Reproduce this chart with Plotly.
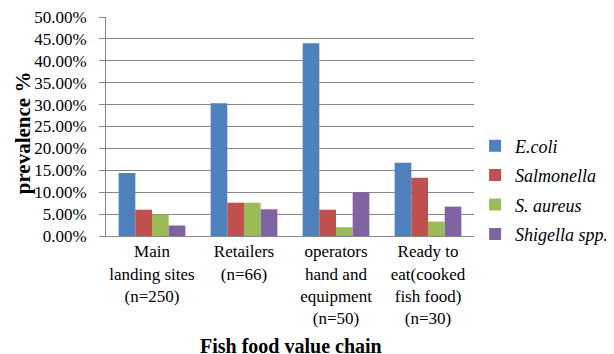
import plotly.graph_objects as go

categories = ["Main<br>landing sites<br>(n=250)", "Retailers<br>(n=66)",
              "operators<br>hand and<br>equipment<br>(n=50)",
              "Ready to<br>eat(cooked<br>fish food)<br>(n=30)"]
series_names = ["E.coli", "Salmonella", "S. aureus", "Shigella spp."]
ecoli = [14.4, 30.3, 44.0, 16.7]
salmonella = [6.0, 7.6, 6.0, 13.3]
saureus = [4.9, 7.6, 2.0, 3.3]
shigella = [2.4, 6.1, 10.0, 6.7]
colors = ["#4F81BD", "#C0504D", "#9BBB59", "#8064A2"]
y_ticks = [0, 5, 10, 15, 20, 25, 30, 35, 40, 45, 50]

FF = "Liberation Serif"

fig = go.Figure()
for i, (name, vals) in enumerate(zip(series_names, [ecoli, salmonella, saureus, shigella])):
    fig.add_trace(go.Bar(x=categories, y=vals, name=name, marker_color=colors[i],
                         marker_line_width=0, legendgroup=str(i)))

fig.update_layout(
    template="none",
    width=614, height=354,
    margin=dict(l=98, r=134, t=9, b=126),
    paper_bgcolor="white", plot_bgcolor="white",
    barmode="group", bargap=0.275, bargroupgap=0,
    font=dict(family=FF, size=17, color="black"),
    showlegend=True,
    legend=dict(x=1.003, y=0.21, xanchor="left", yanchor="middle",
                font=dict(family=FF, size=18, style="italic", color="black"),
                traceorder="grouped", tracegroupgap=3,
                itemwidth=30, bgcolor="rgba(0,0,0,0)"),
    yaxis=dict(range=[0, 50], tickvals=y_ticks,
               ticktext=[f"{v:.2f}%" for v in y_ticks],
               tickfont=dict(family=FF, size=17, color="black"),
               ticklabeloverflow="allow",
               showgrid=True, gridcolor="#868686", gridwidth=1,
               showline=True, linecolor="#868686", linewidth=1,
               ticks="outside", ticklen=6, tickcolor="#868686",
               ticklabelstandoff=9,
               zeroline=False),
    xaxis=dict(showline=True, linecolor="#868686", linewidth=1,
               tickfont=dict(family=FF, size=17, color="black"),
               showgrid=False, ticks="", tickangle=0),
    annotations=[
        dict(text="<b>prevalence %</b>", x=-0.225, y=0.47, xref="paper", yref="paper",
             xanchor="center", yanchor="middle",
             textangle=-90, showarrow=False, font=dict(size=21, family=FF, color="black")),
        dict(text="<b>Fish food value chain</b>", x=0.503, y=-0.5, xref="paper", yref="paper",
             xanchor="center", yanchor="middle",
             showarrow=False, font=dict(size=20, family=FF, color="black")),
    ],
)
fig.write_html("out.html")
